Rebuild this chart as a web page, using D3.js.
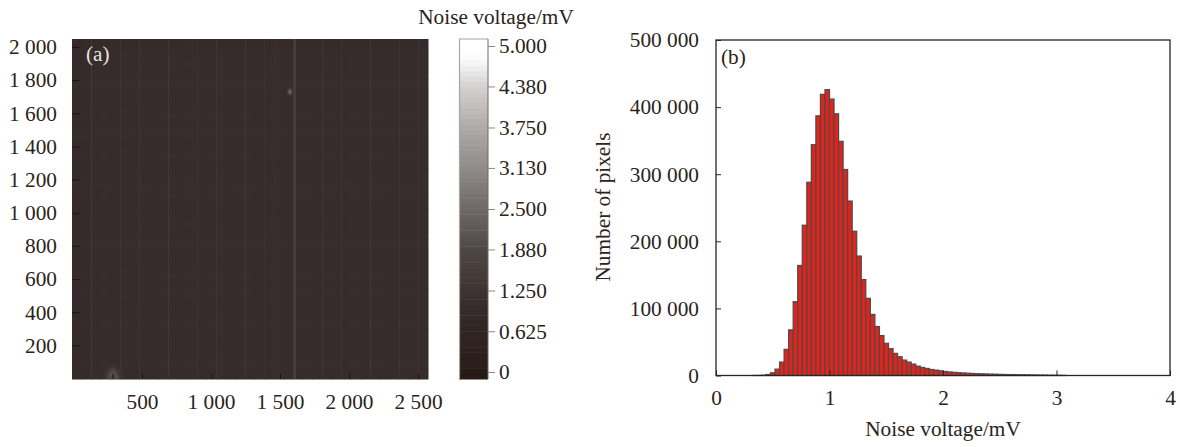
<!DOCTYPE html>
<html>
<head>
<meta charset="utf-8">
<script src="https://cdn.jsdelivr.net/npm/d3@7"></script>
<style>
  html, body { margin: 0; padding: 0; background: #fff; }
  svg { display: block; }
  text { font-family: "Liberation Serif", serif; font-size: 21.3px; fill: #2b2320; }
</style>
</head>
<body>
<svg id="chart" width="1180" height="447"></svg>
<script>
// panel (a): detector size and the read-off noise map
const sensorWidth = 2572;
const sensorHeight = 2048;
const mapXTicks = [500, 1000, 1500, 2000, 2500];
const mapYTicks = [200, 400, 600, 800, 1000, 1200, 1400, 1600, 1800, 2000];
// faint banding, mV, left to right and top to bottom
const columnNoise = [0.96, 0.97, 1.0, 1.01, 1.0, 1.015, 1.0, 1.01, 1.0, 1.015, 1.01, 1.0, 1.015, 1.0, 1.01, 1.02, 1.0,
  1.01, 1.015, 1.0, 1.01, 1.02, 1.0, 1.015, 1.01, 1.0, 1.015, 1.01, 1.0, 1.01, 1.0, 1.015, 1.01, 1.0, 1.01, 1.015, 1.0];
const rowNoise = [-0.05, 0, 0.01, 0, 0.02, 0, -0.01, 0.01, 0, 0.02, 0, 0.01, -0.01, 0, 0.02, 0.01, 0, -0.01,
  0.01, 0, 0.02, 0, -0.01, 0.01, 0, 0.01, -0.01, 0, 0.01, 0, -0.01, 0, 0.01, 0];
// hot column and the two bright spots, in sensor coordinates
const hotColumns = [{ x: 1608, width: 12, level: 1.75 }];
const hotSpots = [
  { x: 1572, y: 1730, rx: 26, ry: 28, level: 1.4 },
  { x: 1572, y: 1730, rx: 12, ry: 14, level: 2.4 },
  { x: 290, y: 0, rx: 75, ry: 85, level: 1.2 },
  { x: 290, y: 0, rx: 50, ry: 65, level: 1.6 },
  { x: 290, y: 0, rx: 30, ry: 45, level: 2.0 },
  { x: 290, y: 0, rx: 10, ry: 30, level: 0.8 }
];

// colour bar
const colorTicks = [0, 0.625, 1.25, 1.88, 2.5, 3.13, 3.75, 4.38, 5];
const colorTickLabels = ['0', '0.625', '1.250', '1.880', '2.500', '3.130', '3.750', '4.380', '5.000'];
const colorStops = [0, 1, 1.88, 2.5, 3.13, 3.75, 4.38, 4.8, 5];
const colorValues = ['#271b17', '#362c2b', '#4f4745', '#6e6866', '#8f8b89', '#aeaaa9', '#d3d1d0', '#fbfbfb', '#ffffff'];
const colorBands = 64;

// panel (b): histogram, counts per 0.04 mV bin
const firstBin = 0.32;
const binWidth = 0.04;
const binCounts = [100, 200, 500, 1500, 4000, 9500, 20000, 39000, 68000, 110000, 164000, 224000, 288000, 344000,
  387000, 419000, 426000, 412000, 390000, 349000, 307000, 260000, 215000, 178000, 143000, 115000, 91000, 73000,
  59500, 48000, 40000, 33000, 28000, 23000, 20000, 17000, 14000, 12000, 10500, 9000, 8000, 7000, 6000, 5300,
  4700, 4200, 3800, 3400, 3000, 2700, 2500, 2300, 2100, 1900, 1700, 1500, 1400, 1300, 1200, 1100, 1000, 900,
  800, 700, 600, 500, 400, 300, 200];
const histXTicks = [0, 1, 2, 3, 4];
const histYTicks = [0, 100000, 200000, 300000, 400000, 500000];

const spaced = d3.formatLocale({ decimal: '.', thousands: ' ', grouping: [3], currency: ['', ''] }).format(',');
const svg = d3.select('#chart');

// ---- (a) noise map
const mapX = d3.scaleLinear().domain([0, sensorWidth]).range([73, 428]);
const mapY = d3.scaleLinear().domain([0, sensorHeight]).range([378.5, 39]);
const volt = d3.scaleLinear().domain(colorStops).range(colorValues);

const columnBand = d3.scaleBand().domain(d3.range(columnNoise.length)).range([72, 428]);
const rowBand = d3.scaleBand().domain(d3.range(rowNoise.length)).range([39, 379]);
const cells = d3.cross(d3.range(columnNoise.length), d3.range(rowNoise.length));
const map = svg.append('g');
map.selectAll('rect.cell')
  .data(cells)
  .join('rect')
  .attr('class', 'cell')
  .attr('x', d => columnBand(d[0]))
  .attr('y', d => rowBand(d[1]))
  .attr('width', columnBand.bandwidth() + 0.5)
  .attr('height', rowBand.bandwidth() + 0.5)
  .attr('fill', d => volt(columnNoise[d[0]] + rowNoise[d[1]]));

map.selectAll('rect.hot')
  .data(hotColumns)
  .join('rect')
  .attr('class', 'hot')
  .attr('x', d => mapX(d.x - d.width / 2))
  .attr('y', 39)
  .attr('width', d => mapX(d.width) - mapX(0))
  .attr('height', 340)
  .attr('fill', d => volt(d.level));

svg.append('clipPath').attr('id', 'map-clip')
  .append('rect').attr('x', 72).attr('y', 39).attr('width', 356).attr('height', 340);

map.append('g').attr('clip-path', 'url(#map-clip)')
  .selectAll('ellipse')
  .data(hotSpots)
  .join('ellipse')
  .attr('cx', d => mapX(d.x))
  .attr('cy', d => mapY(d.y))
  .attr('rx', d => mapX(d.rx) - mapX(0))
  .attr('ry', d => mapY(0) - mapY(d.ry))
  .attr('fill', d => volt(d.level));

function styleInnerTicks(g, color) {
  g.select('.domain').remove();
  g.selectAll('.tick line').attr('stroke', color).attr('stroke-width', 1);
}

svg.append('g')
  .attr('transform', 'translate(0,379)')
  .call(d3.axisBottom(mapX).tickValues(mapXTicks).tickSize(-5).tickPadding(15).tickFormat(spaced))
  .call(styleInnerTicks, '#1d1412');

svg.append('g')
  .attr('transform', 'translate(72,0)')
  .call(d3.axisLeft(mapY).tickValues(mapYTicks).tickSize(-7).tickPadding(15).tickFormat(spaced))
  .call(styleInnerTicks, '#1d1412');

svg.append('text')
  .attr('x', 86)
  .attr('y', 61)
  .style('fill', '#e4e2e0')
  .text('(a)');

// ---- colour bar
const barScale = d3.scaleLinear().domain([-0.107, 5.107]).range([379, 39]);
const bandValues = d3.range(colorBands).map(i => -0.107 + (i + 0.5) * 5.214 / colorBands);
svg.append('g').selectAll('rect')
  .data(bandValues)
  .join('rect')
  .attr('x', 459)
  .attr('y', d => barScale(d + 5.214 / colorBands / 2))
  .attr('width', 29)
  .attr('height', 340 / colorBands + 0.5)
  .attr('fill', d => volt(d));

svg.append('path')
  .attr('d', 'M459.5,379V39H488')
  .attr('fill', 'none')
  .attr('stroke', '#a8a6a5')
  .attr('stroke-width', 1.2);
svg.append('path')
  .attr('d', 'M488,39V379')
  .attr('stroke', '#6e6866');

svg.append('g')
  .attr('transform', 'translate(488,0)')
  .call(d3.axisRight(barScale).tickValues(colorTicks).tickSize(7).tickPadding(4)
    .tickFormat((d, i) => colorTickLabels[i]))
  .call(styleInnerTicks, '#8a8684');

svg.append('text')
  .attr('x', 496)
  .attr('y', 24)
  .attr('text-anchor', 'middle')
  .text('Noise voltage/mV');

// ---- (b) histogram
const histX = d3.scaleLinear().domain([0, 4]).range([716, 1170]);
const histY = d3.scaleLinear().domain([0, 500000]).range([375.5, 40]);

svg.append('g').selectAll('rect')
  .data(binCounts)
  .join('rect')
  .attr('x', (d, i) => histX(firstBin + i * binWidth))
  .attr('y', d => histY(d))
  .attr('width', histX(binWidth) - histX(0))
  .attr('height', d => histY(0) - histY(d))
  .attr('fill', '#e2231c')
  .attr('stroke', '#4d4a4a')
  .attr('stroke-width', 1.2);

svg.append('rect')
  .attr('x', 716).attr('y', 40).attr('width', 454).attr('height', 335.5)
  .attr('fill', 'none').attr('stroke', '#2b2320').attr('stroke-width', 1.3);

svg.append('g')
  .attr('transform', 'translate(0,375.5)')
  .call(d3.axisBottom(histX).tickValues(histXTicks).tickSize(-5).tickPadding(14).tickFormat(d3.format('d')))
  .call(styleInnerTicks, '#2b2320');

svg.append('g')
  .attr('transform', 'translate(716,0)')
  .call(d3.axisLeft(histY).tickValues(histYTicks).tickSize(-5).tickPadding(17).tickFormat(spaced))
  .call(styleInnerTicks, '#2b2320');

svg.append('text')
  .attr('x', 721)
  .attr('y', 64)
  .text('(b)');

svg.append('text')
  .attr('x', 943)
  .attr('y', 436)
  .attr('text-anchor', 'middle')
  .text('Noise voltage/mV');

svg.append('text')
  .attr('transform', 'translate(610,207) rotate(-90)')
  .attr('text-anchor', 'middle')
  .text('Number of pixels');
</script>
</body>
</html>
